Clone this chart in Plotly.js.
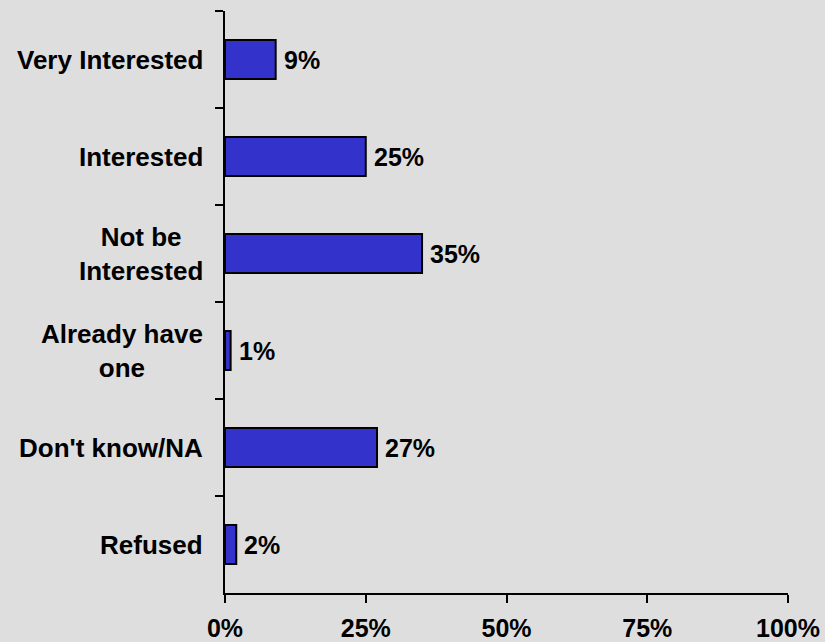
<!DOCTYPE html>
<html>
<head>
<meta charset="utf-8">
<script src="https://cdn.plot.ly/plotly-3.0.1.min.js"></script>
<style>html,body{margin:0;padding:0;background:#dedede;}</style>
</head>
<body>
<div id="chart" style="width:825px;height:642px;"></div>
<script>
var categories = ["Very Interested", "Interested", "Not be Interested", "Already have one", "Don't know/NA", "Refused"];
var categoryLabels = ["Very Interested", "Interested", "Not be<br>Interested", "Already have<br>one", "Don't know/NA", "Refused"];
var values = [9, 25, 35, 1, 27, 2];
var xTickVals = [0, 25, 50, 75, 100];
var xTickText = ["0%", "25%", "50%", "75%", "100%"];

var FONT = {family: "Liberation Sans, Arial, sans-serif", size: 25, color: "#000000", weight: "bold"};
var CAT_FONT = {family: "Liberation Sans, Arial, sans-serif", size: 26, color: "#000000", weight: "bold"};

var trace = {
  type: "bar",
  orientation: "h",
  y: categories,
  x: values,
  marker: {color: "#3333cc", line: {color: "#000000", width: 2}},
  hoverinfo: "none"
};

var annotations = [];
categories.forEach(function (c, i) {
  annotations.push({
    xref: "paper", yref: "y", x: 0, y: c,
    xanchor: "right", yanchor: "middle", xshift: -20,
    text: categoryLabels[i], showarrow: false, align: "center",
    font: CAT_FONT
  });
  annotations.push({
    xref: "x", yref: "y", x: values[i], y: c,
    xanchor: "left", yanchor: "middle", xshift: 6,
    text: values[i] + "%", showarrow: false,
    font: FONT
  });
});

var layout = {
  width: 825, height: 642,
  paper_bgcolor: "#dedede", plot_bgcolor: "#dedede",
  margin: {l: 225, r: 37, t: 11, b: 49},
  showlegend: false,
  bargap: 0.6,
  font: FONT,
  xaxis: {
    range: [0, 100], tickvals: xTickVals, ticktext: xTickText,
    showgrid: false, zeroline: false, showline: true,
    linecolor: "#000000", linewidth: 2,
    ticks: "outside", ticklen: 8, tickwidth: 2, tickcolor: "#000000",
    tickfont: FONT, ticklabelstandoff: 4, fixedrange: true
  },
  yaxis: {
    type: "category", categoryorder: "array", categoryarray: categories,
    autorange: "reversed",
    showgrid: false, zeroline: false, showline: true,
    linecolor: "#000000", linewidth: 2,
    ticks: "outside", ticklen: 8, tickwidth: 2, tickcolor: "#000000",
    tickson: "boundaries", showticklabels: false, fixedrange: true
  },
  annotations: annotations
};

Plotly.newPlot("chart", [trace], layout, {displayModeBar: false, staticPlot: true});
</script>
</body>
</html>
